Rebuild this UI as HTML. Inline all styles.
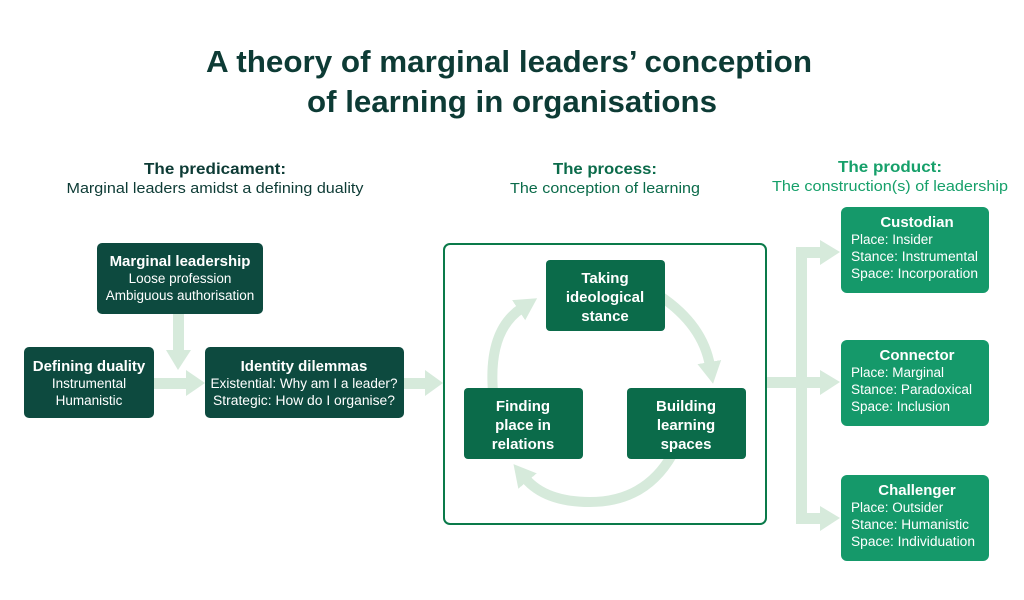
<!DOCTYPE html>
<html><head><meta charset="utf-8"><style>
html,body{margin:0;padding:0;background:#fff}
svg{display:block}
text{font-family:"Liberation Sans",sans-serif}
.t{fill:#fff;font-size:13.5px;text-anchor:middle}
.b{font-weight:bold;font-size:15px}
.l{fill:#fff;font-size:13.5px}
</style></head><body>
<svg width="1024" height="600" viewBox="0 0 1024 600">
<defs>
<marker id="ah" markerUnits="userSpaceOnUse" markerWidth="26" markerHeight="26" refX="4" refY="13" orient="auto">
<polygon points="0,1 22,13 0,25" fill="#d6eadb"/>
</marker>
</defs>
<text x="509" y="72" font-size="31" font-weight="bold" fill="#0d3b35" text-anchor="middle" textLength="606" lengthAdjust="spacingAndGlyphs">A theory of marginal leaders’ conception</text>
<text x="512" y="112" font-size="31" font-weight="bold" fill="#0d3b35" text-anchor="middle" textLength="410" lengthAdjust="spacingAndGlyphs">of learning in organisations</text>

<text x="215" y="174" font-size="16" font-weight="bold" fill="#0d3b35" text-anchor="middle" textLength="142" lengthAdjust="spacingAndGlyphs">The predicament:</text>
<text x="215" y="193" font-size="14.5" fill="#0d3b35" text-anchor="middle" textLength="297" lengthAdjust="spacingAndGlyphs">Marginal leaders amidst a defining duality</text>
<text x="605" y="174" font-size="16" font-weight="bold" fill="#0b6b4a" text-anchor="middle" textLength="104" lengthAdjust="spacingAndGlyphs">The process:</text>
<text x="605" y="193" font-size="14.5" fill="#0b6b4a" text-anchor="middle" textLength="190" lengthAdjust="spacingAndGlyphs">The conception of learning</text>
<text x="890" y="172" font-size="16" font-weight="bold" fill="#16a06a" text-anchor="middle" textLength="104" lengthAdjust="spacingAndGlyphs">The product:</text>
<text x="890" y="191" font-size="14.5" fill="#16a06a" text-anchor="middle" textLength="236" lengthAdjust="spacingAndGlyphs">The construction(s) of leadership</text>

<g fill="#d6eadb">
<rect x="173" y="313" width="11" height="40"/><polygon points="166,350 191,350 178,370"/>
<rect x="153" y="378" width="35" height="11"/><polygon points="186,370 186,396 205,383"/>
<rect x="403" y="378" width="24" height="11"/><polygon points="425,370 425,396 443,383"/>
<rect x="766" y="377" width="40" height="11"/>
<rect x="796" y="247" width="11" height="276"/>
<rect x="796" y="247" width="26" height="11"/><polygon points="820,240 820,265 840,252"/>
<rect x="796" y="377" width="26" height="11"/><polygon points="820,370 820,395 840,382"/>
<rect x="796" y="513" width="26" height="11"/><polygon points="820,506 820,531 840,518"/>
</g>

<rect x="444" y="244" width="322" height="280" rx="6" fill="none" stroke="#0a7a4a" stroke-width="2"/>
<g fill="none" stroke="#d6eadb" stroke-width="10">
<path d="M493 392 Q488 330 522 308" marker-end="url(#ah)"/>
<path d="M660 296 Q703 325 710 366" marker-end="url(#ah)"/>
<path d="M672 455 Q645 502 590 502 Q545 502 525 478" marker-end="url(#ah)"/>
</g>

<g fill="#0d4a3f">
<rect x="97" y="243" width="166" height="71" rx="5"/>
<rect x="24" y="347" width="130" height="71" rx="5"/>
<rect x="205" y="347" width="199" height="71" rx="5"/>
</g>
<text x="180" y="266" class="t b">Marginal leadership</text>
<text x="180" y="283" class="t">Loose profession</text>
<text x="180" y="300" class="t">Ambiguous authorisation</text>
<text x="89" y="371" class="t b">Defining duality</text>
<text x="89" y="388" class="t">Instrumental</text>
<text x="89" y="405" class="t">Humanistic</text>
<text x="304" y="371" class="t b">Identity dilemmas</text>
<text x="304" y="388" class="t" textLength="187" lengthAdjust="spacingAndGlyphs">Existential: Why am I a leader?</text>
<text x="304" y="405" class="t" textLength="182" lengthAdjust="spacingAndGlyphs">Strategic: How do I organise?</text>

<g fill="#0b6b4a">
<rect x="546" y="260" width="119" height="71" rx="4"/>
<rect x="464" y="388" width="119" height="71" rx="4"/>
<rect x="627" y="388" width="119" height="71" rx="4"/>
</g>
<text x="605" y="283" class="t b">Taking</text>
<text x="605" y="302" class="t b">ideological</text>
<text x="605" y="321" class="t b">stance</text>
<text x="523" y="411" class="t b">Finding</text>
<text x="523" y="430" class="t b">place in</text>
<text x="523" y="449" class="t b">relations</text>
<text x="686" y="411" class="t b">Building</text>
<text x="686" y="430" class="t b">learning</text>
<text x="686" y="449" class="t b">spaces</text>

<g fill="#15996a">
<rect x="841" y="207" width="148" height="86" rx="6"/>
<rect x="841" y="340" width="148" height="86" rx="6"/>
<rect x="841" y="475" width="148" height="86" rx="6"/>
</g>
<text x="917" y="227" class="t b">Custodian</text>
<text x="851" y="244" class="l">Place: Insider</text>
<text x="851" y="261" class="l" textLength="127" lengthAdjust="spacingAndGlyphs">Stance: Instrumental</text>
<text x="851" y="278" class="l" textLength="127" lengthAdjust="spacingAndGlyphs">Space: Incorporation</text>
<text x="917" y="360" class="t b">Connector</text>
<text x="851" y="377" class="l">Place: Marginal</text>
<text x="851" y="394" class="l" textLength="121" lengthAdjust="spacingAndGlyphs">Stance: Paradoxical</text>
<text x="851" y="411" class="l">Space: Inclusion</text>
<text x="917" y="495" class="t b">Challenger</text>
<text x="851" y="512" class="l">Place: Outsider</text>
<text x="851" y="529" class="l" textLength="118" lengthAdjust="spacingAndGlyphs">Stance: Humanistic</text>
<text x="851" y="546" class="l" textLength="124" lengthAdjust="spacingAndGlyphs">Space: Individuation</text>
</svg>
</body></html>
